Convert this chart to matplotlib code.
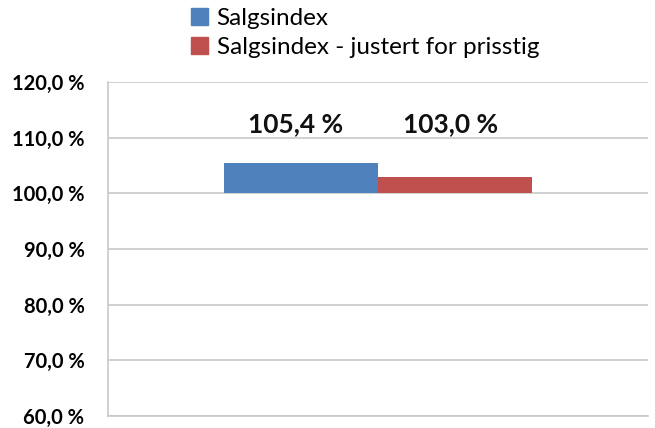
import matplotlib
matplotlib.use('Agg')
import matplotlib.pyplot as plt
from matplotlib.patches import Patch

# Data
series = ['Salgsindex', 'Salgsindex - justert for prisstig']
values = [105.4, 103.0]
colors = ['#4F81BD', '#C0504D']
baseline = 100.0
yticks = [60, 70, 80, 90, 100, 110, 120]

plt.rcParams['font.family'] = ['Lato', 'DejaVu Sans']

fig = plt.figure(figsize=(6.55, 4.28), dpi=100)
ax = fig.add_axes([0.165, 0.028, 0.824, 0.780])

width = 0.286
offsets = [-width / 2, width / 2]
for name, val, col, off in zip(series, values, colors, offsets):
    ax.bar(0.5 + off, val - baseline, width=width, bottom=baseline,
           color=col, label=name, zorder=3)
    label = f"{val:.1f} %".replace('.', ',')
    ax.text(0.5 + off - 0.009, 112.4, label, ha='center', va='center',
            fontsize=19, fontweight='bold', color='#111111')

ax.set_xlim(0, 1)
ax.set_ylim(60, 120)
ax.set_yticks(yticks)
ax.set_yticklabels([f"{t:.1f} %".replace('.', ',') for t in yticks],
                   fontsize=14.5, fontweight='bold')
ax.set_xticks([])
ax.tick_params(axis='y', length=0, pad=17)
ax.yaxis.grid(True, color='#C8C8C8', linewidth=1.2, zorder=0)
for s in ['top', 'right']:
    ax.spines[s].set_visible(False)
for s in ['left', 'bottom']:
    ax.spines[s].set_color('#C8C8C8')
    ax.spines[s].set_linewidth(1.2)

handles = [Patch(color=c, label=n) for n, c in zip(series, colors)]
fig.legend(handles=handles, loc='upper left', bbox_to_anchor=(0.277, 1.005),
           frameon=False, fontsize=17.5, handlelength=0.7, handleheight=0.7,
           handletextpad=0.35, labelspacing=0.35, borderaxespad=0)

fig.savefig('out.png', dpi=100)
